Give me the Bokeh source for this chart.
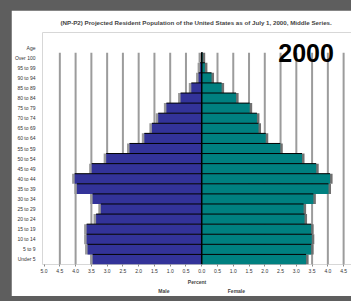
from bokeh.plotting import figure
from bokeh.models import FactorRange, Label, FixedTicker, LinearAxis
from bokeh.transform import dodge
from bokeh.embed import file_html
from bokeh.resources import INLINE

ages = ["Under 5", "5 to 9", "10 to 14", "15 to 19", "20 to 24", "25 to 29",
        "30 to 34", "35 to 39", "40 to 44", "45 to 49", "50 to 54", "55 to 59",
        "60 to 64", "65 to 69", "70 to 74", "75 to 79", "80 to 84", "85 to 89",
        "90 to 94", "95 to 99", "Over 100"]
male = [3.46, 3.62, 3.65, 3.65, 3.35, 3.20, 3.46, 3.96, 4.03, 3.49, 3.03, 2.29,
        1.82, 1.58, 1.38, 1.12, 0.67, 0.33, 0.10, 0.05, 0.02]
female = [3.31, 3.47, 3.49, 3.47, 3.26, 3.23, 3.54, 4.02, 4.07, 3.63, 3.18, 2.49,
          2.03, 1.80, 1.75, 1.52, 1.09, 0.63, 0.31, 0.10, 0.03]
x_ticks = [-5.0, -4.5, -4.0, -3.5, -3.0, -2.5, -2.0, -1.5, -1.0, -0.5, 0.0,
           0.5, 1.0, 1.5, 2.0, 2.5, 3.0, 3.5, 4.0, 4.5]
grid_ticks = [t for t in x_ticks if t != 0.0 and t != -5.0]
sex_labels = {-1.2: "Male", 1.1: "Female"}
title_text = "(NP-P2)  Projected Resident Population of the United States as of July 1, 2000, Middle Series."
year_text = "2000"
age_header = "Age"
shadow = 0.08

FONT = "Liberation Sans"
W, H = 340, 286
NB = "\u00a0"

factors = ages + [age_header, " "]
p = figure(width=W, height=H, output_backend="svg", toolbar_location=None,
           y_range=FactorRange(factors=factors, range_padding=0),
           x_range=(-5.05, 4.75),
           min_border_left=27, min_border_right=0, min_border_top=21,
           min_border_bottom=30)
p.background_fill_color = "white"
p.border_fill_color = "white"
p.outline_line_color = None

# title
p.title.text = title_text
p.title.align = "center"
p.title.text_font = FONT
p.title.text_font_size = "6.2px"
p.title.text_font_style = "bold"
p.title.standoff = 13
p.title.offset = -1

# grid lines (only over the age rows)
n = len(grid_ticks)
gsrc = dict(gx=grid_ticks, ybot=[ages[0]] * n, ytop=[ages[-1]] * n)
p.segment(x0="gx", x1="gx",
          y0=dodge("ybot", -0.5, range=p.y_range),
          y1=dodge("ytop", 0.5, range=p.y_range),
          source=gsrc, line_color="#9c9c9c", line_width=2)

src = dict(age=ages,
           mneg=[-m for m in male], fpos=female,
           mshadow=[-(m + shadow) for m in male],
           fshadow=[f + shadow for f in female])

# shadows
p.hbar(y="age", left="mshadow", right=0, height=1.0, source=src,
       fill_color="#9a9a9a", line_color=None)
p.hbar(y="age", left=0, right="fshadow", height=1.0, source=src,
       fill_color="#707070", line_color=None)
# bars
p.hbar(y="age", left="mneg", right=0, height=1.0, source=src,
       fill_color="#333399", line_color=None)
p.hbar(y="age", left=0, right="fpos", height=1.0, source=src,
       fill_color="#008080", line_color=None)
# top edges of bars
p.segment(x0="mneg", x1="fpos",
          y0=dodge("age", 0.5, range=p.y_range),
          y1=dodge("age", 0.5, range=p.y_range),
          source=src, line_color="black", line_width=1)
# zero line
zsrc = dict(zx=[0.0], ybot=[ages[0]], ytop=[ages[-1]])
p.segment(x0="zx", x1="zx",
          y0=dodge("ybot", -0.5, range=p.y_range),
          y1=dodge("ytop", 0.5, range=p.y_range),
          source=zsrc, line_color="black", line_width=1.5)

p.xgrid.grid_line_color = None
p.ygrid.grid_line_color = None

# x axis
xa = p.xaxis[0]
xa.ticker = FixedTicker(ticks=x_ticks)
xa.major_label_overrides = {t: f"{abs(t):.1f}" for t in x_ticks}
xa.axis_line_color = None
xa.major_tick_in = 0
xa.major_tick_out = 2
xa.major_tick_line_color = "#888888"
xa.minor_tick_line_color = None
xa.major_label_text_font = FONT
xa.major_label_text_font_size = "5px"
xa.major_label_text_color = "#333333"
xa.major_label_standoff = 2
xa.axis_label = "Percent"
xa.axis_label_text_font = FONT
xa.axis_label_text_font_size = "5px"
xa.axis_label_text_font_style = "bold"
xa.axis_label_standoff = 3

# Male / Female labels as a secondary axis
sa = LinearAxis(ticker=FixedTicker(ticks=list(sex_labels.keys())),
                major_label_overrides=sex_labels)
sa.axis_line_color = None
sa.major_tick_line_color = None
sa.minor_tick_line_color = None
sa.major_tick_out = 0
sa.major_tick_in = 0
sa.major_label_standoff = 0
sa.major_label_text_font = FONT
sa.major_label_text_font_size = "5px"
sa.major_label_text_font_style = "bold"
p.add_layout(sa, "below")

# y axis
ya = p.yaxis[0]
ya.axis_line_color = None
ya.major_tick_line_color = None
ya.minor_tick_line_color = None
ya.major_label_text_font = FONT
ya.major_label_text_font_size = "5px"
ya.major_label_text_color = "#333333"
ya.major_label_standoff = 1
ya.major_label_overrides = {age_header: age_header + NB * 6 + "\u200b"}

# year label inside the frame, baseline at the top of the oldest row
p.add_layout(Label(text=year_text, x=4.19, y=len(ages), x_units="data",
                   y_units="data", text_font=FONT, text_font_size="25px",
                   text_font_style="bold", text_align="right",
                   text_baseline="alphabetic", text_color="black"))

html = file_html(p, INLINE).replace(
    "<body>", '<body style="background:#5e5e5e; padding:10px 0 0 11px;">')
open("out.html", "w").write(html)
